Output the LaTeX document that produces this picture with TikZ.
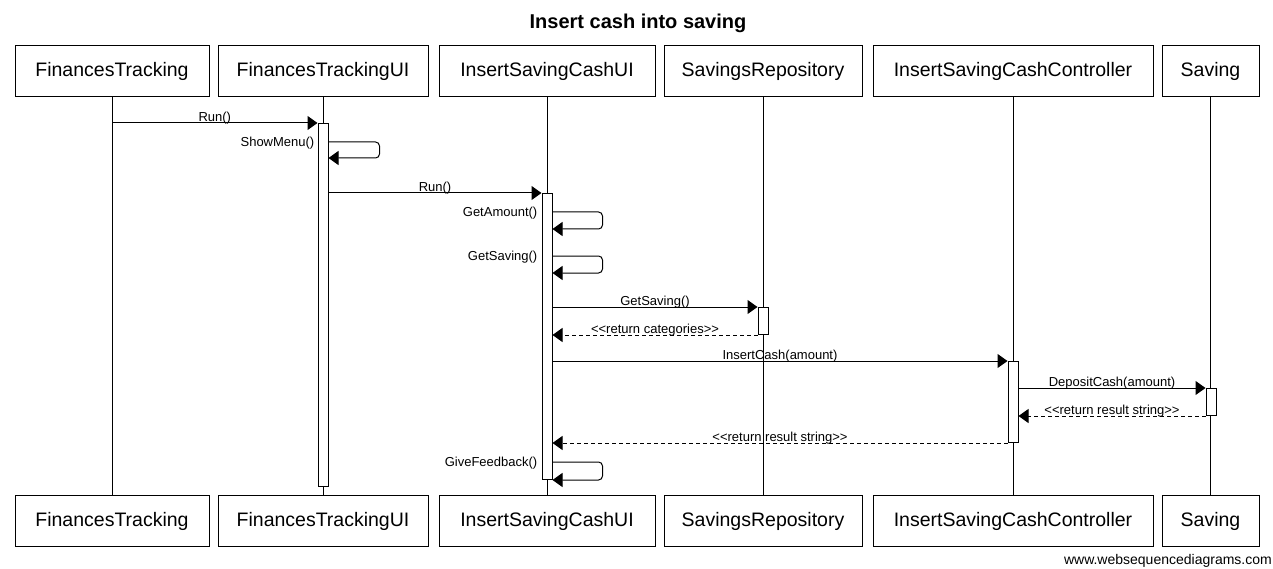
\documentclass[tikz,border=0pt]{standalone}
\usepackage{fontspec}
\setmainfont{Liberation Sans}
\usetikzlibrary{arrows.meta}
\newcommand{\rtn}[1]{<\kern0pt<#1>\kern0pt>}

\begin{document}
\begin{tikzpicture}[x=1pt,y=-1pt,
		actor/.style={draw, line width=1pt, minimum height=51pt, inner sep=0pt, font=\fontsize{19.5}{22}\selectfont},
		act/.style={draw, fill=white, line width=1pt, minimum width=10pt, inner sep=0pt, anchor=north},
		msg/.style={line width=1pt, -{Triangle[length=10pt,width=14pt]}},
		ret/.style={msg, dash pattern=on 4pt off 3pt},
		lbl/.style={font=\fontsize{13}{15}\selectfont, inner sep=0pt, above, yshift=-1.5pt},
		slbl/.style={font=\fontsize{13}{15}\selectfont, inner sep=0pt, anchor=east, yshift=-1.5pt},
		life/.style={line width=1pt}]

				\useasboundingbox (0,0) rectangle (1273,569);

				\node [font=\bfseries\fontsize{20}{23}\selectfont] (title) at (638,23) {Insert cash into saving};

				\node [actor, minimum width=194pt] (FT) at (112,71.5) {FinancesTracking};
				\node [actor, minimum width=210pt] (FTUI) at (323,71.5) {FinancesTrackingUI};
				\node [actor, minimum width=216pt] (ISCUI) at (547,71.5) {InsertSavingCashUI};
				\node [actor, minimum width=198pt] (SR) at (763,71.5) {SavingsRepository};
				\node [actor, minimum width=280pt] (ISCC) at (1013,71.5) {InsertSavingCashController};
				\node [actor, minimum width=97pt] (S) at (1210.5,71.5) {Saving};

				\node [actor, minimum width=194pt] (FTe) at (112,521) {FinancesTracking};
				\node [actor, minimum width=210pt] (FTUIe) at (323,521) {FinancesTrackingUI};
				\node [actor, minimum width=216pt] (ISCUIe) at (547,521) {InsertSavingCashUI};
				\node [actor, minimum width=198pt] (SRe) at (763,521) {SavingsRepository};
				\node [actor, minimum width=280pt] (ISCCe) at (1013,521) {InsertSavingCashController};
				\node [actor, minimum width=97pt] (Se) at (1210.5,521) {Saving};

				\draw [life] (FT) -- (FTe);
				\draw [life] (FTUI) -- (FTUIe);
				\draw [life] (ISCUI) -- (ISCUIe);
				\draw [life] (SR) -- (SRe);
				\draw [life] (ISCC) -- (ISCCe);
				\draw [life] (S) -- (Se);

				\node [act, minimum height=363pt] (a2) at (323,123) {};
				\node [act, minimum height=286pt] (a3) at (547,193) {};
				\node [act, minimum height=27pt] (a4) at (763,307) {};
				\node [act, minimum height=81pt] (a5) at (1013,361) {};
				\node [act, minimum height=27pt] (a6) at (1211,388) {};

				\draw [msg] (FT |- a2.north) -- node [lbl] {Run()} (a2.north west);
				\draw [msg, rounded corners=4pt] ([yshift=-19pt]a2.north east) -- +(51,0) |- ([yshift=-35pt]a2.north east);
				\node [slbl] (l1) at ([xshift=-3pt,yshift=-19pt]a2.north west) {ShowMenu()};

				\draw [msg] (a2.east |- a3.north) -- node [lbl] {Run()} (a3.north west);
				\draw [msg, rounded corners=4pt] ([yshift=-19pt]a3.north east) -- +(50,0) |- ([yshift=-36pt]a3.north east);
				\node [slbl] (l2) at ([xshift=-4pt,yshift=-19pt]a3.north west) {GetAmount()};
				\draw [msg, rounded corners=4pt] ([yshift=-63pt]a3.north east) -- +(50,0) |- ([yshift=-80pt]a3.north east);
				\node [slbl] (l3) at ([xshift=-4pt,yshift=-63pt]a3.north west) {GetSaving()};

				\draw [msg] (a3.east |- a4.north) -- node [lbl] {GetSaving()} (a4.north west);
				\draw [ret] (a4.south west) -- node [lbl] {\rtn{return categories}} (a3.east |- a4.south);
				\draw [msg] (a3.east |- a5.north) -- node [lbl] {InsertCash(amount)} (a5.north west);
				\draw [msg] (a5.east |- a6.north) -- node [lbl] {DepositCash(amount)} (a6.north west);
				\draw [ret] (a6.south west) -- node [lbl] {\rtn{return result string}} (a5.east |- a6.south);
				\draw [ret] (a5.south west) -- node [lbl] {\rtn{return result string}} (a3.east |- a5.south);

				\draw [msg, rounded corners=4pt] ([yshift=-269pt]a3.north east) -- +(50,0) |- (a3.south east);
				\node [slbl] (l4) at ([xshift=-4pt,yshift=-269pt]a3.north west) {GiveFeedback()};

				\node [font=\fontsize{14}{16}\selectfont, anchor=east, inner sep=0pt] (site) at (1272,561) {www.websequencediagrams.com};
		\end{tikzpicture}
\end{document}
